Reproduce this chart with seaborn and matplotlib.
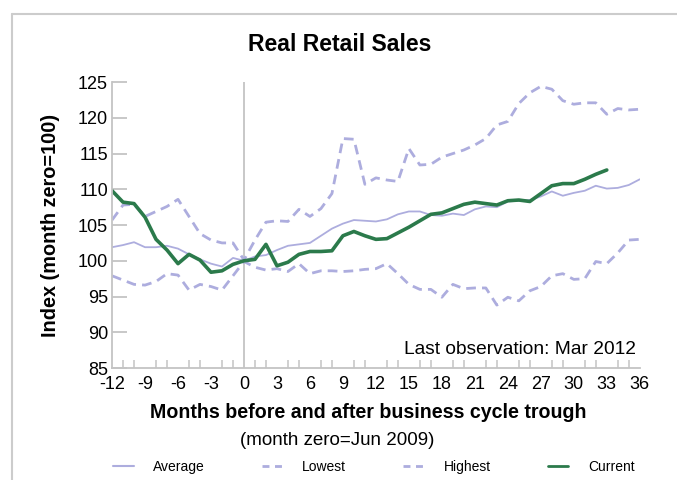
import pandas as pd
import numpy as np
import matplotlib.pyplot as plt
import matplotlib.lines as mlines
from matplotlib.ticker import MultipleLocator
import seaborn as sns

# months relative to trough (month zero = Jun 2009)
months = list(range(-12, 37))
months_current = list(range(-12, 34))

average = [101.9, 102.2, 102.6, 101.9, 101.9, 102.1, 101.7, 100.9, 100.2, 99.6, 99.2, 100.4,
           100.0, 100.6, 100.8, 101.5, 102.1, 102.3, 102.5, 103.5, 104.5, 105.2, 105.7, 105.6,
           105.5, 105.8, 106.5, 106.9, 106.9, 106.4, 106.3, 106.6, 106.4, 107.2, 107.6, 107.5,
           108.3, 108.4, 108.5, 109.0, 109.7, 109.1, 109.5, 109.8, 110.5, 110.1, 110.2, 110.6, 111.4]

lowest = [97.9, 97.3, 96.7, 96.6, 97.1, 98.2, 98.0, 95.9, 96.7, 96.4, 95.9, 97.9,
          99.9, 99.1, 98.7, 98.9, 98.5, 99.6, 98.2, 98.6, 98.6, 98.5, 98.6, 98.8,
          98.9, 99.6, 98.2, 96.7, 96.0, 96.0, 94.9, 96.7, 96.1, 96.2, 96.2, 93.8,
          94.9, 94.4, 95.8, 96.4, 97.9, 98.2, 97.4, 97.5, 99.9, 99.6, 101.1, 102.9, 103.0]

highest = [105.7, 107.8, 107.9, 106.2, 106.9, 107.6, 108.6, 106.2, 103.8, 102.9, 102.5, 102.5,
           100.1, 102.9, 105.4, 105.6, 105.5, 107.2, 106.2, 107.3, 109.4, 117.1, 117.0, 110.7,
           111.6, 111.3, 111.1, 115.7, 113.4, 113.5, 114.5, 115.0, 115.5, 116.2, 117.1, 119.0,
           119.5, 122.0, 123.5, 124.4, 124.0, 122.4, 121.9, 122.1, 122.1, 120.5, 121.3, 121.1, 121.2]

current = [109.8, 108.2, 108.0, 106.1, 103.0, 101.5, 99.6, 100.9, 100.1, 98.4, 98.6, 99.5,
           100.0, 100.2, 102.3, 99.3, 99.8, 100.9, 101.3, 101.3, 101.4, 103.5, 104.1, 103.5,
           103.0, 103.1, 103.9, 104.7, 105.6, 106.5, 106.7, 107.3, 107.9, 108.2, 108.0, 107.8,
           108.4, 108.5, 108.3, 109.4, 110.5, 110.8, 110.8, 111.4, 112.1, 112.7]

lavender = '#adadde'
green = '#2b7a4b'
grey = '#c4c4c4'

sns.set_style('white')
plt.rcParams['font.family'] = ['Liberation Sans', 'DejaVu Sans']
plt.rcParams['axes.unicode_minus'] = False
plt.rcParams['text.color'] = 'black'
plt.rcParams['axes.labelcolor'] = 'black'

fig = plt.figure(figsize=(6.77, 4.80), dpi=100)
ax = fig.add_axes([0.1655, 0.2333, 0.7795, 0.5957])

df_avg = pd.DataFrame({'month': months, 'value': average})
df_low = pd.DataFrame({'month': months, 'value': lowest})
df_high = pd.DataFrame({'month': months, 'value': highest})
df_cur = pd.DataFrame({'month': months_current, 'value': current})

ax.axvline(0, color=grey, lw=1.3, zorder=1)

sns.lineplot(data=df_avg, x='month', y='value', ax=ax, color=lavender, lw=1.3)
sns.lineplot(data=df_low, x='month', y='value', ax=ax, color=lavender, lw=2.0,
             linestyle=(0, (3.5, 2.2)))
sns.lineplot(data=df_high, x='month', y='value', ax=ax, color=lavender, lw=2.0,
             linestyle=(0, (3.5, 2.2)))
sns.lineplot(data=df_cur, x='month', y='value', ax=ax, color=green, lw=2.6)

ax.set_xlim(-12, 36)
ax.set_ylim(85, 125)
ax.xaxis.set_major_locator(MultipleLocator(3))
ax.xaxis.set_minor_locator(MultipleLocator(1))
ax.yaxis.set_major_locator(MultipleLocator(5))

for s in ['top', 'right']:
    ax.spines[s].set_visible(False)
for s in ['left', 'bottom']:
    ax.spines[s].set_color(grey)
    ax.spines[s].set_linewidth(1.3)

ax.tick_params(axis='x', which='major', direction='in', length=11, width=1.3, color=grey,
               labelcolor='black', labelsize=13, pad=6)
ax.tick_params(axis='x', which='minor', direction='in', length=5.5, width=1.1, color=grey,
               bottom=True)
ax.tick_params(axis='y', which='major', direction='in', length=11, width=1.3, color=grey,
               labelcolor='black', labelsize=13, left=True, pad=3)

ax.set_xlabel('')
ax.set_ylabel('Index (month zero=100)', fontsize=14.3, fontweight='bold', labelpad=13)
fig.text(0.5435, 0.141, 'Months before and after business cycle trough', ha='center',
         va='center', fontsize=14.1, fontweight='bold')
fig.text(0.4985, 0.083, '(month zero=Jun 2009)', ha='center', va='center', fontsize=13.5)

ax.text(35.7, 87.6, 'Last observation: Mar 2012', ha='right', va='center', fontsize=13.8)

fig.text(0.502, 0.907, 'Real Retail Sales', ha='center', va='center', fontsize=16.6,
         fontweight='bold')

handles = [
    mlines.Line2D([], [], color=lavender, lw=1.5),
    mlines.Line2D([], [], color=lavender, lw=2.0, linestyle=(0, (2.5, 2.0))),
    mlines.Line2D([], [], color=lavender, lw=2.0, linestyle=(0, (2.5, 2.0))),
    mlines.Line2D([], [], color=green, lw=2.0),
]
fig.legend(handles, ['Average', 'Lowest', 'Highest', 'Current'], loc='center',
           bbox_to_anchor=(0.552, 0.027), ncol=4, frameon=False, fontsize=10,
           handlelength=1.5, handletextpad=1.4, columnspacing=4.1)

# grey frame at left and top edges
fig.add_artist(mlines.Line2D([12 / 677, 12 / 677], [0, 1 - 14 / 480], color='#cccccc',
                             lw=1.5, transform=fig.transFigure))
fig.add_artist(mlines.Line2D([12 / 677, 1], [1 - 14 / 480, 1 - 14 / 480], color='#cccccc',
                             lw=1.5, transform=fig.transFigure))

fig.savefig('out.png', dpi=100)
